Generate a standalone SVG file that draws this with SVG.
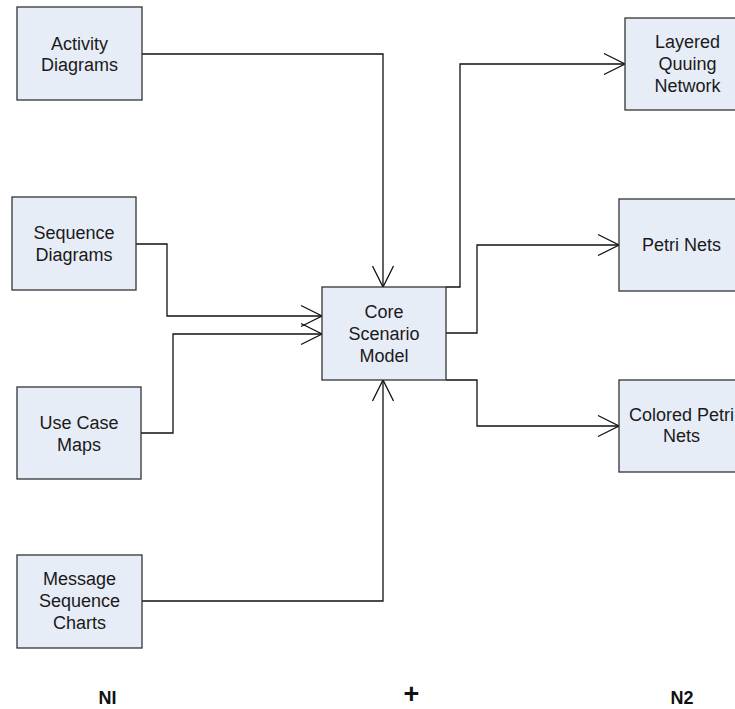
<svg xmlns="http://www.w3.org/2000/svg" width="735" height="709" viewBox="0 0 735 709">
<style>
.box{fill:#e7edf7;stroke:#333;stroke-width:1.3}
.lbl{font-family:"Liberation Sans",Arial,sans-serif;font-size:18px;fill:#1a1a1a;text-anchor:middle}
.cap{font-family:"Liberation Sans",Arial,sans-serif;font-weight:bold;fill:#111;text-anchor:middle}
.conn{fill:none;stroke:#111;stroke-width:1.3}
</style>
<defs>
<marker id="arr" markerUnits="userSpaceOnUse" markerWidth="24" markerHeight="24" viewBox="-22 -12 24 24" refX="0" refY="0" orient="auto">
<path d="M-21,-10.5 L0,0 L-21,10.5" fill="none" stroke="#111" stroke-width="1.3"/>
</marker>
</defs>
<rect width="735" height="709" fill="#fff"/>
<g id="connectors">
<path class="conn" d="M142,54 H383 V287" marker-end="url(#arr)"/>
<path class="conn" d="M136,244 H167 V316 H322" marker-end="url(#arr)"/>
<path class="conn" d="M141,433 H173 V334 H322" marker-end="url(#arr)"/>
<path class="conn" d="M142,601 H383 V380" marker-end="url(#arr)"/>
<path class="conn" d="M446,287 H460 V64 H625" marker-end="url(#arr)"/>
<path class="conn" d="M446,333 H477 V245 H619" marker-end="url(#arr)"/>
<path class="conn" d="M446,380 H477 V426 H619" marker-end="url(#arr)"/>
</g>
<g id="activity"><rect class="box" x="17" y="7" width="125" height="93"/><text class="lbl" x="79.5" y="50">Activity</text><text class="lbl" x="79.5" y="71">Diagrams</text></g>
<g id="sequence"><rect class="box" x="12" y="197" width="124" height="93"/><text class="lbl" x="74" y="239">Sequence</text><text class="lbl" x="74" y="261">Diagrams</text></g>
<g id="usecase"><rect class="box" x="17" y="387" width="124" height="92"/><text class="lbl" x="79" y="429">Use Case</text><text class="lbl" x="79" y="451">Maps</text></g>
<g id="msc"><rect class="box" x="17" y="555" width="125" height="93"/><text class="lbl" x="79.5" y="585">Message</text><text class="lbl" x="79.5" y="607">Sequence</text><text class="lbl" x="79.5" y="629">Charts</text></g>
<g id="core"><rect class="box" x="322" y="287" width="124" height="93"/><text class="lbl" x="384" y="318">Core</text><text class="lbl" x="384" y="340">Scenario</text><text class="lbl" x="384" y="362">Model</text></g>
<g id="lqn"><rect class="box" x="625" y="18" width="125" height="92"/><text class="lbl" x="687.5" y="48">Layered</text><text class="lbl" x="687.5" y="70">Quuing</text><text class="lbl" x="687.5" y="92">Network</text></g>
<g id="petri"><rect class="box" x="619" y="199" width="125" height="92"/><text class="lbl" x="681.5" y="251">Petri Nets</text></g>
<g id="cpn"><rect class="box" x="619" y="380" width="125" height="92"/><text class="lbl" x="681.5" y="421">Colored Petri</text><text class="lbl" x="681.5" y="442">Nets</text></g>
<g id="labels">
<text class="cap" x="107.5" y="704" font-size="18">NI</text>
<text class="cap" x="411.5" y="703" font-size="27">+</text>
<text class="cap" x="682" y="704" font-size="18">N2</text>
</g>
</svg>
